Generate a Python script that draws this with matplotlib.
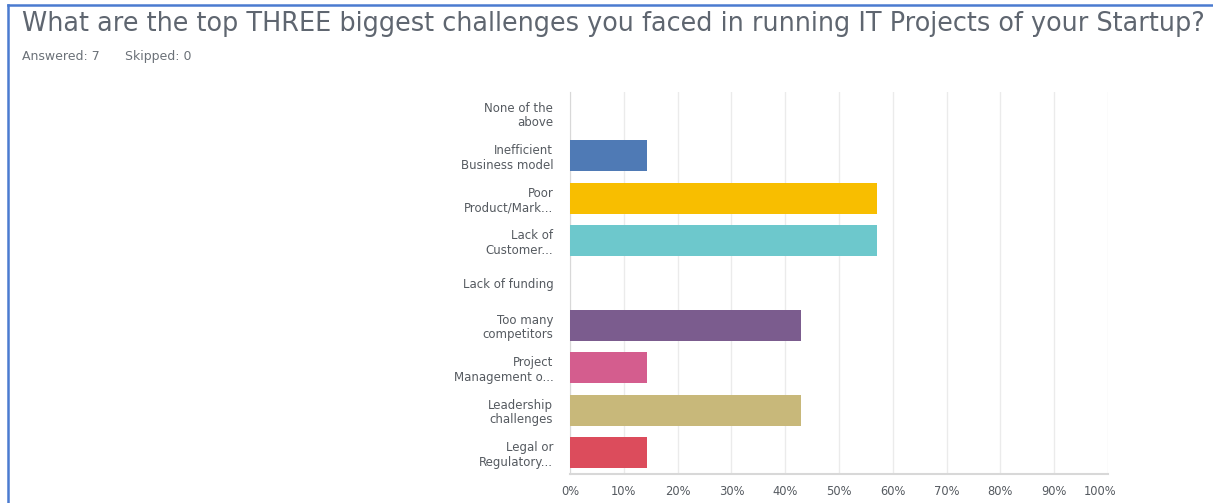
import matplotlib
matplotlib.use("Agg")
import matplotlib.pyplot as plt
from matplotlib.lines import Line2D
import matplotlib.transforms as mtransforms

categories = ["None of the\nabove", "Inefficient\nBusiness model", "Poor\nProduct/Mark...",
              "Lack of\nCustomer...", "Lack of funding", "Too many\ncompetitors",
              "Project\nManagement o...", "Leadership\nchallenges", "Legal or\nRegulatory..."]
values = [0.0, 14.29, 57.14, 57.14, 0.0, 42.86, 14.29, 42.86, 14.29]
colors = ["#4f7ab5", "#4f7ab5", "#f8be00", "#6dc8cc", "#a0a0a0", "#7b5c8e",
          "#d45d8e", "#c8b87a", "#dc4c5c"]
ticks = [0, 10, 20, 30, 40, 50, 60, 70, 80, 90, 100]
tick_labels = [f"{t}%" for t in ticks]

W, H = 1213, 503
fig = plt.figure(figsize=(W / 100, H / 100), dpi=100)
fig.patch.set_facecolor("white")

ax = fig.add_axes([570 / W, 1 - 474 / H, (1108 - 570) / W, (474 - 92) / H])
y = list(range(len(categories)))
ax.barh(y, values, height=0.73, color=colors, zorder=3)
ax.set_ylim(len(categories) - 0.5, -0.5)
ax.set_xlim(0, 100)
ax.set_xticks(ticks)
ax.set_xticklabels(tick_labels, fontsize=8.3, color="#555a60", family="DejaVu Sans")
ax.set_yticks(y)
ax.set_yticklabels(categories, fontsize=8.5, color="#555a60", family="DejaVu Sans",
                   linespacing=1.15)
ax.tick_params(axis="both", length=0)
ax.tick_params(axis="x", pad=8)
ax.tick_params(axis="y", pad=12)
ax.grid(axis="x", color="#ebebeb", linewidth=1, zorder=0)
for s in ["top", "right"]:
    ax.spines[s].set_visible(False)
ax.spines["left"].set_color("#d8d8d8")
ax.spines["bottom"].set_color("#d8d8d8")
ax.spines["bottom"].set_linewidth(1.5)

last = ax.get_xticklabels()[-1]
last.set_transform(last.get_transform() + mtransforms.ScaledTranslation(-8 / 100, 0, fig.dpi_scale_trans))

fig.text(22 / W, 1 - 24 / H, "What are the top THREE biggest challenges you faced in running IT Projects of your Startup?",
         fontsize=18.4, color="#5f6670", va="center", ha="left", family="DejaVu Sans")
fig.text(22 / W, 1 - 60 / H, "Answered: 7", fontsize=9, color="#6b7178",
         va="baseline", ha="left", family="DejaVu Sans")
fig.text(125 / W, 1 - 60 / H, "Skipped: 0", fontsize=9, color="#6b7178",
         va="baseline", ha="left", family="DejaVu Sans")

# blue frame lines
fig.add_artist(Line2D([8 / W, 1], [1 - 5 / H, 1 - 5 / H], color="#4a7bd0", linewidth=1.8))
fig.add_artist(Line2D([8 / W, 8 / W], [0, 1 - 5 / H], color="#4a7bd0", linewidth=1.8))

fig.savefig("out.png", dpi=100, facecolor="white")
